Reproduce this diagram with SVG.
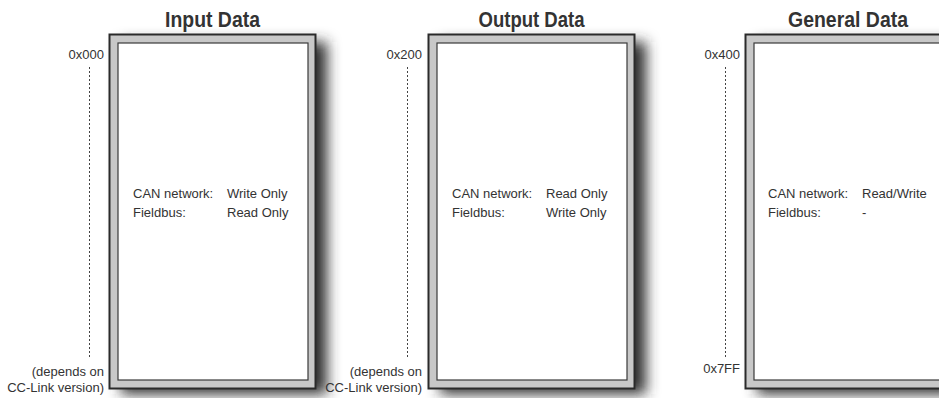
<svg xmlns="http://www.w3.org/2000/svg" width="939" height="398" viewBox="0 0 939 398">
<defs>
<filter id="sh" x="-20%" y="-20%" width="140%" height="140%"><feGaussianBlur stdDeviation="7"/></filter>
</defs>
<style>
.t{font-family:"Liberation Sans",Arial,sans-serif;font-size:22px;font-weight:bold;fill:#333;text-anchor:middle}
.l{font-family:"Liberation Sans",Arial,sans-serif;font-size:13px;fill:#333}
.r{text-anchor:end}
.outer{fill:#c8c8c8;stroke:#2a2a2a;stroke-width:2}
.inner{fill:#fff;stroke:#3a3a3a;stroke-width:1.2}
.shadow{fill:#2e2e2e;filter:url(#sh)}
.dash{stroke:#444;stroke-width:1;stroke-dasharray:2 2;fill:none}
</style>
<rect width="939" height="398" fill="#fff"/>
<g id="input-data">
<rect class="shadow" x="121" y="42" width="206" height="352"/>
<rect class="outer" x="109.5" y="34.5" width="206" height="354"/>
<rect class="inner" x="118" y="43" width="190" height="337"/>
<text class="t" x="212.5" y="27" textLength="95" lengthAdjust="spacingAndGlyphs">Input Data</text>
<text class="l" x="133" y="198">CAN network:</text>
<text class="l" x="227" y="198">Write Only</text>
<text class="l" x="133" y="217">Fieldbus:</text>
<text class="l" x="227" y="217">Read Only</text>
</g>
<g id="output-data">
<rect class="shadow" x="440" y="42" width="206" height="352"/>
<rect class="outer" x="428.5" y="34.5" width="206" height="354"/>
<rect class="inner" x="437" y="43" width="190" height="337"/>
<text class="t" x="531.5" y="27" textLength="106" lengthAdjust="spacingAndGlyphs">Output Data</text>
<text class="l" x="452" y="198">CAN network:</text>
<text class="l" x="546" y="198">Read Only</text>
<text class="l" x="452" y="217">Fieldbus:</text>
<text class="l" x="546" y="217">Write Only</text>
</g>
<g id="general-data">
<rect class="shadow" x="757" y="42" width="206" height="352"/>
<rect class="outer" x="745.5" y="34.5" width="206" height="354"/>
<rect class="inner" x="754" y="43" width="190" height="337"/>
<text class="t" x="848" y="27" textLength="120" lengthAdjust="spacingAndGlyphs">General Data</text>
<text class="l" x="768" y="198">CAN network:</text>
<text class="l" x="862" y="198">Read/Write</text>
<text class="l" x="768" y="217">Fieldbus:</text>
<text class="l" x="862" y="217">-</text>
</g>
<g id="address-labels">
<text class="l r" x="104" y="59">0x000</text>
<text class="l r" x="104" y="376">(depends on</text>
<text class="l r" x="104" y="392">CC-Link version)</text>
<text class="l r" x="422" y="59">0x200</text>
<text class="l r" x="422" y="376">(depends on</text>
<text class="l r" x="422" y="392">CC-Link version)</text>
<text class="l r" x="740" y="59">0x400</text>
<text class="l r" x="740" y="373">0x7FF</text>
</g>
<g id="connectors">
<line class="dash" x1="89.5" y1="67" x2="89.5" y2="357"/>
<line class="dash" x1="407.5" y1="67" x2="407.5" y2="357"/>
<line class="dash" x1="725.5" y1="67" x2="725.5" y2="357"/>
</g>
</svg>
